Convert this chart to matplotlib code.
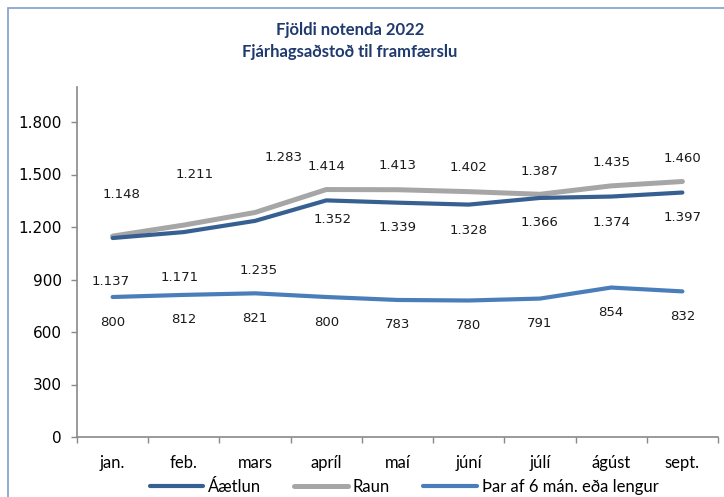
import matplotlib
matplotlib.use('Agg')
import matplotlib.pyplot as plt
from matplotlib.patches import Rectangle

months = ['jan.', 'feb.', 'mars', 'apríl', 'maí', 'júní', 'júlí', 'ágúst', 'sept.']
aaetlun = [1137, 1171, 1235, 1352, 1339, 1328, 1366, 1374, 1397]
raun = [1148, 1211, 1283, 1414, 1413, 1402, 1387, 1435, 1460]
sex_man = [800, 812, 821, 800, 783, 780, 791, 854, 832]
yticks = [0, 300, 600, 900, 1200, 1500, 1800]

# label offsets in pixels (dx, dy), like the hand-moved labels in the original
raun_off = [(9, 42), (11, 51), (29, 55), (0, 23), (0, 24), (0, 24), (0, 23), (0, 23), (0, 23)]
aaetlun_off = [(-2, -43), (-4, -45), (4, -50), (6, -19), (0, -25), (0, -26), (0, -25), (0, -26), (0, -25)]

def fmt(v):
    return f"{v:,}".replace(',', '.')

fig = plt.figure(figsize=(7.24, 4.97), dpi=100)
ax = fig.add_axes([77/724, 60/497, 641/724, 350/497])

x = list(range(len(months)))
ax.plot(x, aaetlun, color='#376092', lw=3.0, solid_capstyle='round', label='Áætlun', zorder=3)
ax.plot(x, raun, color='#A6A6A6', lw=3.6, solid_capstyle='round', label='Raun', zorder=2)
ax.plot(x, sex_man, color='#4A7EBB', lw=3.0, solid_capstyle='round', label='Þar af 6 mán. eða lengur', zorder=3)

lab = dict(fontsize=9.5, color='#1a1a1a', ha='center', va='center', family='DejaVu Sans',
           textcoords='offset pixels')
for i in x:
    ax.annotate(fmt(raun[i]), (i, raun[i]), xytext=raun_off[i], **lab)
    ax.annotate(fmt(aaetlun[i]), (i, aaetlun[i]), xytext=aaetlun_off[i], **lab)
    ax.annotate(fmt(sex_man[i]), (i, sex_man[i]), xytext=(0, -25), **lab)

ax.set_xlim(-0.5, len(months) - 0.5)
ax.set_ylim(0, 2000)
ax.set_yticks(yticks)
ax.set_yticklabels([fmt(v) for v in yticks], family='DejaVu Sans', fontsize=11)
ax.set_xticks(x)
ax.set_xticklabels(months, family='Lato', fontsize=12)
ax.set_xticks([i - 0.5 for i in range(len(months) + 1)], minor=True)
ax.tick_params(axis='x', which='major', length=0, pad=13)
ax.tick_params(axis='x', which='minor', length=4, color='#898989', width=1)
ax.tick_params(axis='y', length=4, color='#898989', width=1, pad=7)

for s in ['top', 'right']:
    ax.spines[s].set_visible(False)
for s in ['left', 'bottom']:
    ax.spines[s].set_color('#898989')
    ax.spines[s].set_linewidth(1.2)

fig.text(350/724, 1 - 30/497, 'Fjöldi notenda 2022', ha='center', va='center',
         family='Lato', fontweight='bold', fontsize=12, color='#1F3A6E')
fig.text(350/724, 1 - 52/497, 'Fjárhagsaðstoð til framfærslu', ha='center', va='center',
         family='Lato', fontweight='bold', fontsize=12, color='#1F3A6E')

fig.legend(loc='center', bbox_to_anchor=(404/724, 1 - 487/497), ncol=3, frameon=False,
           prop={'family': 'Lato', 'size': 12}, handlelength=3.2, handletextpad=0.3,
           columnspacing=2.0)

fig.patches.append(Rectangle((8/724, -0.1), 1.2, 1.1 - 8/497, transform=fig.transFigure,
                             fill=False, edgecolor='#7F9FCF', lw=1.2))

fig.savefig('out.png', dpi=100)
